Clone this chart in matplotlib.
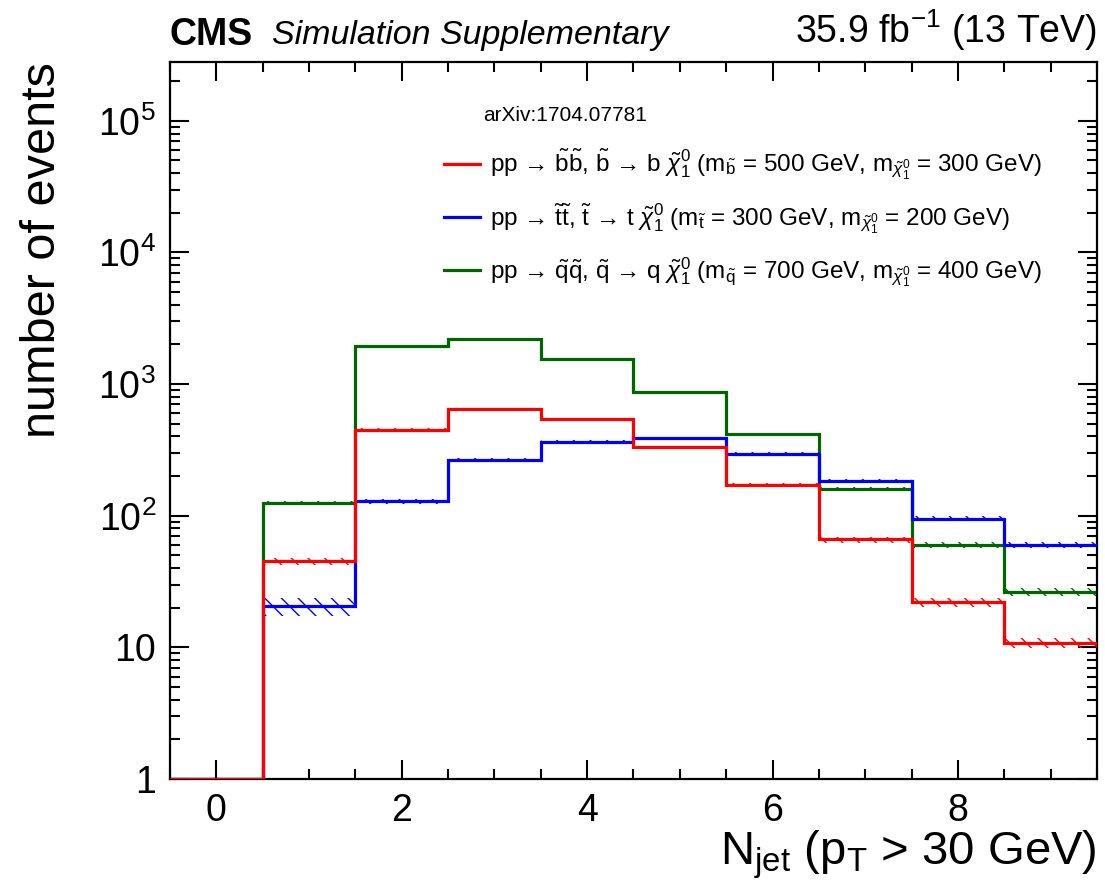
import numpy as np
import matplotlib
matplotlib.use("Agg")
import matplotlib.pyplot as plt
from matplotlib.ticker import FixedLocator, LogLocator, NullFormatter

plt.rcParams['font.family'] = ['Liberation Sans', 'DejaVu Sans']
plt.rcParams['mathtext.fontset'] = 'custom'
plt.rcParams['mathtext.rm'] = 'Liberation Sans'
plt.rcParams['mathtext.it'] = 'Liberation Sans:italic'
plt.rcParams['mathtext.bf'] = 'Liberation Sans:bold'
plt.rcParams['hatch.linewidth'] = 1.0

# N_jet bins 0..9
njet = [0, 1, 2, 3, 4, 5, 6, 7, 8, 9]

# sbottom (500, 300)
sbottom = [1, 45, 450, 650, 545, 330, 171, 66, 22, 10.8]
sbottom_err = [0, 3, 10, 12, 11, 8, 6, 3.5, 1.8, 1.0]
# stop (300, 200)
stop = [1, 20.6, 129, 266, 364, 390, 295, 184, 95, 60]
stop_err = [0, 3.2, 6, 8, 9, 9, 8, 6, 4.5, 3.5]
# squark (700, 400)
squark = [1, 125, 1950, 2200, 1550, 875, 418, 160, 60, 26.4]
squark_err = [0, 4, 18, 20, 16, 12, 8, 5, 3, 1.8]

ARR = '\u2192'
labels = [
    'pp ' + ARR + r' $\mathrm{\tilde{b}\tilde{b}}$, $\mathrm{\tilde{b}}$ ' + ARR + r' b $\tilde{\chi}^{0}_{1}$ '
    r'(m$_{\mathrm{\tilde{b}}}$ = 500 GeV, m$_{\tilde{\chi}^{0}_{1}}$ = 300 GeV)',
    'pp ' + ARR + r' $\mathrm{\tilde{t}\tilde{t}}$, $\mathrm{\tilde{t}}$ ' + ARR + r' t $\tilde{\chi}^{0}_{1}$ '
    r'(m$_{\mathrm{\tilde{t}}}$ = 300 GeV, m$_{\tilde{\chi}^{0}_{1}}$ = 200 GeV)',
    'pp ' + ARR + r' $\mathrm{\tilde{q}\tilde{q}}$, $\mathrm{\tilde{q}}$ ' + ARR + r' q $\tilde{\chi}^{0}_{1}$ '
    r'(m$_{\mathrm{\tilde{q}}}$ = 700 GeV, m$_{\tilde{\chi}^{0}_{1}}$ = 400 GeV)',
]

RED = '#ff0000'
BLUE = '#0000ff'
GREEN = '#006600'

fig = plt.figure(figsize=(11.05, 8.93), dpi=100)
ax = fig.add_axes([0.1538, 0.1277, 0.8390, 0.8029])

edges = np.append(np.array(njet) - 0.5, njet[-1] + 0.5)


def draw_hist(vals, errs, color, label, z):
    vals = np.array(vals, dtype=float)
    errs = np.array(errs, dtype=float)
    lo = np.append(vals - errs, vals[-1] - errs[-1])
    hi = np.append(vals + errs, vals[-1] + errs[-1])
    ax.fill_between(edges, lo, hi, step='post', facecolor='none', edgecolor=color,
                    hatch='\\\\', linewidth=0, zorder=z)
    ax.stairs(vals, edges, color=color, linewidth=2.3, baseline=None, label=label,
              zorder=z + 0.5)


draw_hist(squark, squark_err, GREEN, labels[2], 2)
draw_hist(stop, stop_err, BLUE, labels[1], 3)
draw_hist(sbottom, sbottom_err, RED, labels[0], 4)

ax.set_yscale('log')
ax.set_xlim(-0.5, 9.5)
ax.set_ylim(1, 2.8e5)

ax.set_xticks([0, 2, 4, 6, 8])
ax.set_xticklabels(['0', '2', '4', '6', '8'])
ax.xaxis.set_minor_locator(FixedLocator(np.arange(-0.5, 9.6, 0.5)))
ax.set_yticks([1, 10, 100, 1e3, 1e4, 1e5])
ax.set_yticklabels(['1', '10', r'10$^{2}$', r'10$^{3}$', r'10$^{4}$', r'10$^{5}$'])
ax.yaxis.set_minor_locator(LogLocator(base=10, subs=np.arange(2, 10)))
ax.yaxis.set_minor_formatter(NullFormatter())

ax.tick_params(which='both', direction='in', top=True, right=True, width=1.5)
ax.tick_params(which='major', length=14, labelsize=27, pad=10)
ax.tick_params(which='minor', length=7)
for s in ax.spines.values():
    s.set_linewidth(1.6)

ax.set_ylabel('number of events', fontsize=35, loc='top', labelpad=24)
ax.set_xlabel(r'N$_{\mathrm{jet}}$ (p$_{\mathrm{T}}$ > 30 GeV)', fontsize=34, loc='right', labelpad=0)

ax.text(0.0, 1.012, 'CMS', transform=ax.transAxes, fontsize=27, fontweight='bold',
        ha='left', va='bottom')
ax.text(0.110, 1.016, 'Simulation Supplementary', transform=ax.transAxes, fontsize=24.5,
        fontstyle='italic', ha='left', va='bottom')
ax.text(1.0, 1.012, r'35.9 fb$^{-1}$ (13 TeV)', transform=ax.transAxes, fontsize=27,
        ha='right', va='bottom')

ax.text(0.338, 0.925, 'arXiv:1704.07781', transform=ax.transAxes, fontsize=15,
        ha='left', va='center')

handles, labs = ax.get_legend_handles_labels()
order = [labs.index(l) for l in labels]
leg = ax.legend([handles[i] for i in order], [labs[i] for i in order],
                loc='upper left', bbox_to_anchor=(0.285, 0.895), frameon=False,
                fontsize=17.5, handlelength=1.5, handletextpad=0.4, labelspacing=0.8,
                borderaxespad=0)
for h in leg.get_lines():
    h.set_linewidth(2.3)

fig.savefig('out.png', dpi=100)
